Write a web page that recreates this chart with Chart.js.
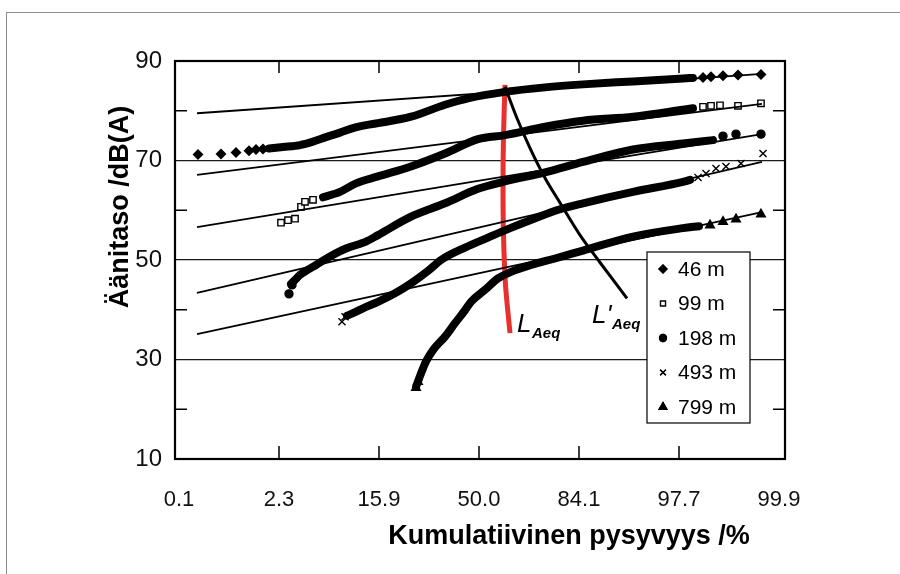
<!DOCTYPE html>
<html>
<head>
<meta charset="utf-8">
<script src="https://cdn.jsdelivr.net/npm/chart.js@4.4.0/dist/chart.umd.min.js"></script>
<style>
  html, body { margin: 0; padding: 0; background: #fff; }
  #wrap { position: relative; width: 900px; height: 574px; overflow: hidden; }
  #frame { position: absolute; left: 6px; top: 12px; width: 1000px; height: 1000px;
           border-left: 1px solid #8c8c8c; border-top: 1px solid #8c8c8c; }
  canvas { position: absolute; left: 0; top: 0; }
</style>
</head>
<body>
<div id="wrap"><div id="frame"></div><canvas id="kaavio" width="900" height="574"></canvas></div>
<script>
// X-akseli on todennäköisyysasteikko: arvot normaalijakauman z-lukuina
const tickZ = [-3, -2, -1, 0, 1, 2, 3];
const percentLabels = ['0.1', '2.3', '15.9', '50.0', '84.1', '97.7', '99.9'];
const yTicks = [10, 30, 50, 70, 90];
const minorY = [20, 40, 60, 80];

const distances = ['46 m', '99 m', '198 m', '493 m', '799 m'];

// Mittauspisteet [z, dB(A)] - tiheä osa (piirretään paksuna viivana)
const dense46 = [[-2.10,72.4],[-1.96,72.7],[-1.79,73.1],[-1.66,73.8],[-1.53,74.7],[-1.39,75.6],[-1.26,76.5],[-1.13,77.1],[-1.01,77.5],[-0.68,78.8],[-0.34,81.2],[-0.11,82.5],[0.26,83.8],[0.66,84.7],[1.04,85.3],[1.54,85.9],[2.04,86.5],[2.14,86.6]];
const dense99 = [[-1.56,62.6],[-1.39,63.7],[-1.23,65.4],[-1.01,66.8],[-0.68,68.8],[-0.34,71.4],[-0.01,74.3],[0.26,75.1],[0.66,76.8],[1.04,78.0],[1.54,78.8],[2.04,80.2],[2.14,80.5]];
const dense198 = [[-1.88,45.2],[-1.84,46.0],[-1.79,47.0],[-1.73,47.8],[-1.63,49.0],[-1.49,50.7],[-1.33,52.3],[-1.13,53.7],[-1.01,55.0],[-0.68,58.7],[-0.34,61.4],[-0.01,64.3],[0.26,65.8],[0.66,67.6],[1.04,69.7],[1.54,72.2],[2.04,73.4],[2.34,74.1]];
const dense493 = [[-1.32,38.8],[-1.26,39.3],[-1.16,40.3],[-1.01,41.6],[-0.84,43.3],[-0.68,45.3],[-0.51,47.8],[-0.38,50.0],[-0.14,52.5],[0.09,54.5],[0.30,56.3],[0.55,58.3],[0.81,60.2],[1.04,61.4],[1.54,63.7],[2.04,65.7],[2.11,66.1]];
const dense799 = [[-0.63,24.5],[-0.58,27.2],[-0.53,29.6],[-0.46,31.9],[-0.34,34.6],[-0.24,37.3],[-0.14,39.9],[-0.08,41.6],[0.06,44.0],[0.19,46.3],[0.32,47.6],[0.52,49.0],[0.76,50.3],[1.04,51.9],[1.54,54.7],[2.04,56.4],[2.20,56.8]];

// Harvat yksittäiset merkit käyrien päissä
const marks46 = [[-2.81,71.2],[-2.58,71.3],[-2.43,71.6],[-2.30,71.95],[-2.23,72.2],[-2.16,72.3],[2.24,86.7],[2.32,86.85],[2.44,87.05],[2.59,87.2],[2.82,87.3]];
const marks99 = [[-1.98,57.5],[-1.91,58.0],[-1.84,58.3],[-1.78,60.7],[-1.74,61.7],[-1.66,62.1],[2.24,80.8],[2.32,81.0],[2.41,81.1],[2.59,81.0],[2.82,81.5]];
const marks198 = [[-1.90,43.2],[-1.87,45.0],[2.44,74.9],[2.57,75.3],[2.82,75.3]];
const marks493 = [[-1.37,37.6],[-1.34,38.6],[2.19,66.6],[2.27,67.4],[2.37,68.4],[2.47,68.8],[2.62,69.4],[2.84,71.4]];
const marks799 = [[-0.63,24.3],[-0.61,25.5],[2.31,57.0],[2.44,57.7],[2.57,58.2],[2.82,59.2]];

// Sovitetut suorat
const fitZ = [-2.82, 2.83];
const fitStart = [79.5, 67.1, 56.6, 43.4, 35.1];
const fitEnd = [87.4, 81.4, 75.3, 69.7, 59.6];

// LAeq (punainen) ja L'Aeq (musta)
const laeqLine = [[0.26,85.2],[0.245,75.0],[0.24,65.0],[0.245,55.0],[0.265,45.0],[0.31,35.3]];
const laeqPrimeLine = [[0.26,84.8],[0.38,78.5],[0.51,72.5],[0.66,66.5],[0.81,61.5],[1.01,55.0],[1.21,49.5],[1.48,42.3]];

const markerStyles = ['rectRot', 'rect', 'circle', 'crossRot', 'triangle'];
const markerRadius = [4.5, 4.5, 4, 5, 5];
const markerFill = ['#000', '#fff', '#000', '#000', '#000'];

const FONT = '"Liberation Sans", Arial, sans-serif';

const toXY = arr => arr.map(p => ({ x: p[0], y: p[1] }));

const datasets = [];
// sovitetut suorat
fitStart.forEach((v, i) => {
  datasets.push({
    data: [{ x: fitZ[0], y: v }, { x: fitZ[1], y: fitEnd[i] }],
    showLine: true, borderColor: '#000', borderWidth: 1.8, pointRadius: 0
  });
});
// tiheät mittauskäyrät
[dense46, dense99, dense198, dense493, dense799].forEach(d => {
  datasets.push({
    data: toXY(d), showLine: true, borderColor: '#000', borderWidth: 8,
    borderCapStyle: 'round', borderJoinStyle: 'round',
    cubicInterpolationMode: 'monotone', pointRadius: 0
  });
});
// yksittäiset merkit
[marks46, marks99, marks198, marks493, marks799].forEach((d, i) => {
  datasets.push({
    data: toXY(d), showLine: false, pointStyle: markerStyles[i],
    pointRadius: markerRadius[i], borderColor: '#000', borderWidth: 1.4,
    backgroundColor: markerFill[i]
  });
});
datasets.push({ data: toXY(laeqPrimeLine), showLine: true, borderColor: '#000', borderWidth: 3, pointRadius: 0, tension: 0.3 });
datasets.push({ data: toXY(laeqLine), showLine: true, borderColor: '#e8302c', borderWidth: 5, pointRadius: 0, tension: 0.3 });

// Kehys, sisäänpäin osoittavat tikit, selite ja akselien otsikot
const kehys = {
  id: 'kehys',
  afterDatasetsDraw(chart) {
    const { ctx, chartArea: a, scales: { x, y } } = chart;
    ctx.save();
    ctx.strokeStyle = '#000';
    ctx.lineWidth = 1.5;
    ctx.beginPath();
    tickZ.slice(1, -1).forEach(z => {
      const px = x.getPixelForValue(z);
      ctx.moveTo(px, a.top); ctx.lineTo(px, a.top + 12);
      ctx.moveTo(px, a.bottom); ctx.lineTo(px, a.bottom - 13);
    });
    minorY.forEach(v => {
      const py = y.getPixelForValue(v);
      ctx.moveTo(a.left, py); ctx.lineTo(a.left + 12, py);
      ctx.moveTo(a.right, py); ctx.lineTo(a.right - 12, py);
    });
    ctx.stroke();
    ctx.lineWidth = 2.2;
    ctx.strokeRect(a.left, a.top, a.right - a.left, a.bottom - a.top);

    // selite
    const bx = a.left + 472, by = a.top + 191, bw = 103, bh = 171;
    ctx.fillStyle = '#fff';
    ctx.fillRect(bx, by, bw, bh);
    ctx.lineWidth = 1.2;
    ctx.strokeRect(bx, by, bw, bh);
    const legendR = [4, 3.5, 3.5, 4, 4.5];
    distances.forEach((d, i) => {
      const ry = by + 17 + i * 34.5;
      Chart.helpers.drawPoint(ctx, {
        pointStyle: markerStyles[i], radius: legendR[i], borderWidth: 1.3, rotation: 0
      }, bx + 16, ry);
      ctx.fillStyle = markerFill[i];
      ctx.strokeStyle = '#000';
      ctx.lineWidth = 1.3;
      ctx.fill(); ctx.stroke();
      ctx.fillStyle = '#000';
      ctx.font = '21px ' + FONT;
      ctx.textBaseline = 'middle';
      ctx.textAlign = 'left';
      ctx.fillText(d, bx + 31, ry + 1);
    });

    // LAeq-merkinnät
    const merk = [
      { main: 'L', z: 0.38, db: 35.5, dx: 15 },
      { main: "L'", z: 1.13, db: 37.3, dx: 20 }
    ];
    merk.forEach(m => {
      const px = x.getPixelForValue(m.z), py = y.getPixelForValue(m.db);
      ctx.textBaseline = 'alphabetic';
      ctx.font = 'italic 26px ' + FONT;
      ctx.fillText(m.main, px, py);
      ctx.font = 'italic bold 15px ' + FONT;
      ctx.fillText('Aeq', px + m.dx, py + 6);
    });
    ctx.restore();
  },
  afterDraw(chart) {
    const { ctx } = chart;
    ctx.save();
    ctx.fillStyle = '#000';
    ctx.font = 'bold 27px ' + FONT;
    ctx.textAlign = 'center';
    ctx.textBaseline = 'middle';
    ctx.fillText('Kumulatiivinen pysyvyys /%', 569, 537);
    ctx.translate(121, 207);
    ctx.rotate(-Math.PI / 2);
    ctx.fillText('Äänitaso /dB(A)', 0, 0);
    ctx.restore();
  }
};

new Chart(document.getElementById('kaavio'), {
  type: 'scatter',
  data: { datasets },
  options: {
    responsive: false,
    animation: false,
    devicePixelRatio: 1,
    layout: { padding: { left: 0, top: 61, right: 115, bottom: 0 } },
    plugins: { legend: { display: false }, tooltip: { enabled: false } },
    elements: { line: { fill: false } },
    scales: {
      x: {
        type: 'linear', min: -3.04, max: 3.06,
        afterBuildTicks: s => { s.ticks = tickZ.map(v => ({ value: v })); },
        afterFit: s => { s.height = 115; },
        ticks: {
          callback: (v, i) => percentLabels[i],
          font: { family: FONT, size: 22 }, color: '#111',
          padding: 20, maxRotation: 0, autoSkip: false
        },
        grid: { display: false },
        border: { display: false }
      },
      y: {
        type: 'linear', min: 10, max: 90,
        afterBuildTicks: s => { s.ticks = yTicks.map(v => ({ value: v })); },
        afterFit: s => { s.width = 175; },
        ticks: { font: { family: FONT, size: 24 }, color: '#111', padding: 13 },
        grid: { color: '#1a1a1a', lineWidth: 1.2, drawTicks: false },
        border: { display: false }
      }
    }
  },
  plugins: [kehys]
});
</script>
</body>
</html>
